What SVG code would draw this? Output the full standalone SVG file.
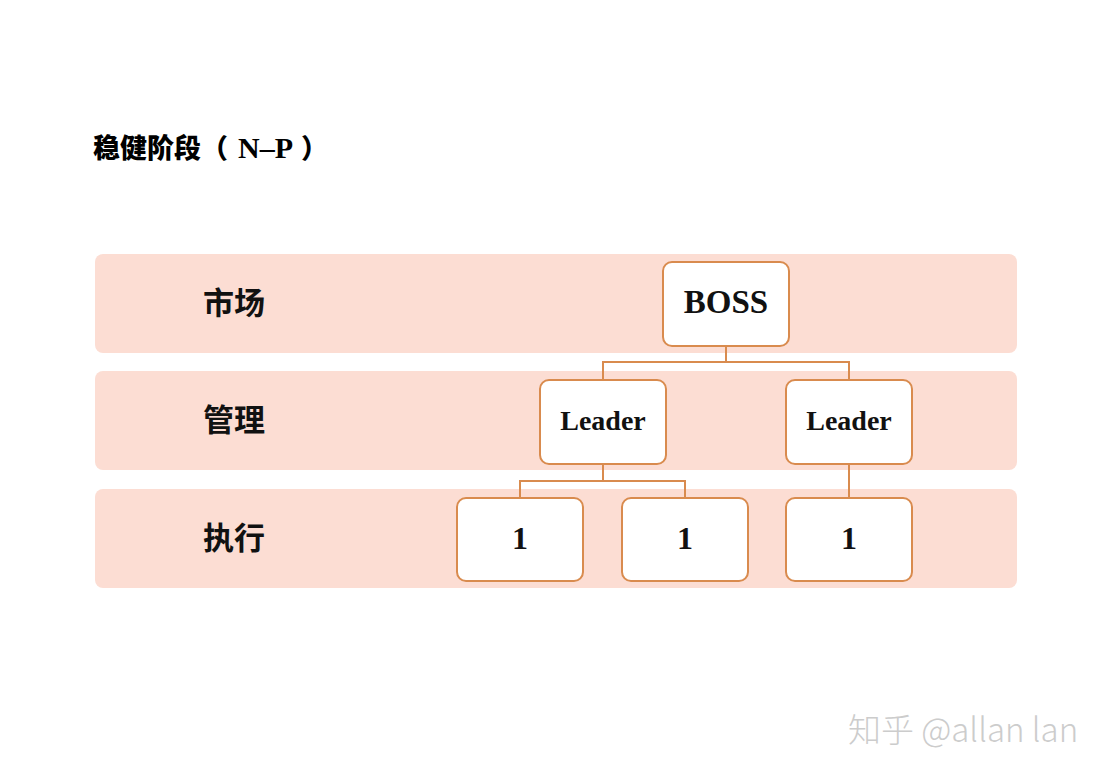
<svg xmlns="http://www.w3.org/2000/svg" width="1114" height="778" viewBox="0 0 1114 778">
<style>
.band{fill:#fcddd3;}
.box{fill:#ffffff;stroke:#d98b4e;stroke-width:2;}
.conn{fill:none;stroke:#d98b4e;stroke-width:2;}
.lbl{font-family:"Noto Sans CJK SC","Noto Sans",sans-serif;font-weight:bold;font-size:31px;fill:#111;}
.nt{font-family:"Liberation Serif","DejaVu Serif",serif;font-weight:bold;fill:#111;text-anchor:middle;}
</style>
<rect width="1114" height="778" fill="#ffffff"/>
<text x="93" y="158" font-family="Noto Sans CJK SC,sans-serif" font-weight="900" font-size="27" fill="#000">稳健阶段（<tspan font-family="Liberation Serif,serif" font-size="30" dx="10">N–P</tspan><tspan dx="8">）</tspan></text>
<g id="bands">
<rect class="band" x="95" y="254" width="922" height="99" rx="8"/>
<rect class="band" x="95" y="371" width="922" height="99" rx="8"/>
<rect class="band" x="95" y="489" width="922" height="99" rx="8"/>
<text class="lbl" x="203" y="314">市场</text>
<text class="lbl" x="203" y="431">管理</text>
<text class="lbl" x="203" y="549">执行</text>
</g>
<g id="connectors">
<path class="conn" d="M726 346 V362 M603 362 H849 M603 361 V380 M849 361 V380"/>
<path class="conn" d="M603 464 V481 M520 481 H685 M520 480 V498 M685 480 V498"/>
<path class="conn" d="M849 464 V498"/>
</g>
<g id="boss"><rect class="box" x="663" y="262" width="126" height="84" rx="9"/><text class="nt" x="726" y="313" font-size="33">BOSS</text></g>
<g id="leader1"><rect class="box" x="540" y="380" width="126" height="84" rx="9"/><text class="nt" x="603" y="430" font-size="28">Leader</text></g>
<g id="leader2"><rect class="box" x="786" y="380" width="126" height="84" rx="9"/><text class="nt" x="849" y="430" font-size="28">Leader</text></g>
<g id="exec1"><rect class="box" x="457" y="498" width="126" height="83" rx="9"/><text class="nt" x="520" y="549" font-size="32">1</text></g>
<g id="exec2"><rect class="box" x="622" y="498" width="126" height="83" rx="9"/><text class="nt" x="685" y="549" font-size="32">1</text></g>
<g id="exec3"><rect class="box" x="786" y="498" width="126" height="83" rx="9"/><text class="nt" x="849" y="549" font-size="32">1</text></g>
<text x="848" y="742" font-family="Noto Sans CJK SC,sans-serif" font-weight="300" font-size="33" fill="#cccccc">知乎 @allan lan</text>
</svg>
